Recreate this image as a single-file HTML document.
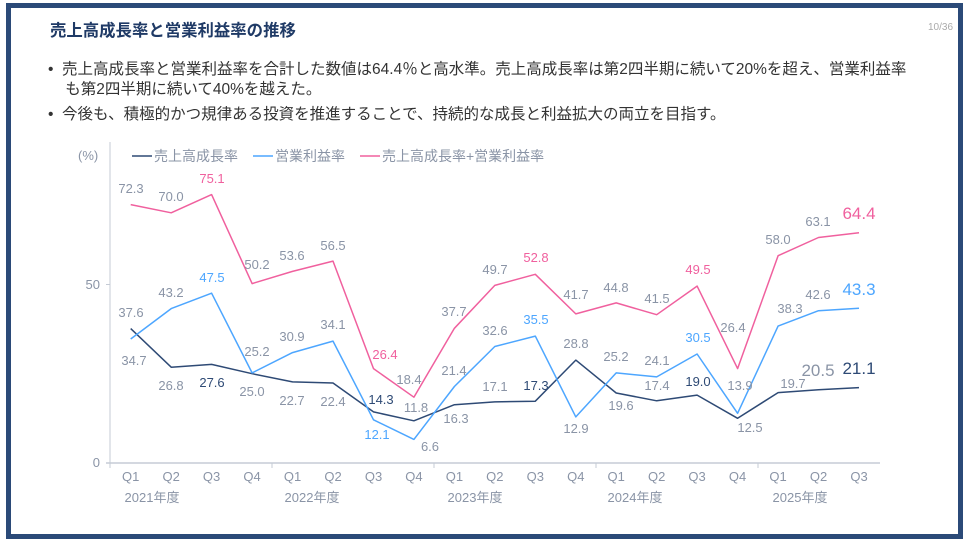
<!DOCTYPE html>
<html><head><meta charset="utf-8"><style>
body{margin:0;width:968px;height:542px;background:#fff;overflow:hidden;font-family:"Liberation Sans","Noto Sans CJK JP",sans-serif;}
.frame{position:absolute;left:6px;top:3px;width:947px;height:526px;border:5px solid #2b4a78;}
.t{position:absolute;white-space:nowrap;}
</style></head><body>
<div class="frame"></div>
<div class="t" style="left:50px;top:17px;font-size:16.4px;color:#1f3a66;font-weight:bold;">売上高成長率と営業利益率の推移</div>
<div class="t" style="left:928px;top:22px;font-size:10px;color:#aaa;">10/36</div>
<div class="t" style="left:48px;top:60px;font-size:15.5px;color:#333;line-height:20px;">•&nbsp; 売上高成長率と営業利益率を合計した数値は64.4％と高水準。売上高成長率は第2四半期に続いて20%を超え、営業利益率<br>&nbsp;&nbsp;&nbsp; も第2四半期に続いて40%を越えた。</div>
<div class="t" style="left:48px;top:102px;font-size:15.5px;color:#333;">•&nbsp; 今後も、積極的かつ規律ある投資を推進することで、持続的な成長と利益拡大の両立を目指す。</div>
<svg style="position:absolute;left:0;top:0" width="968" height="542" font-family="Liberation Sans, Noto Sans CJK JP, sans-serif">
<g fill="#8a94a6" font-size="13">
<text x="78" y="160">(%)</text>
<text x="100" y="289" text-anchor="end">50</text>
<text x="100" y="467" text-anchor="end">0</text>
</g>
<line x1="110" y1="142" x2="110" y2="468" stroke="#c5cbd5"/>
<line x1="106" y1="463" x2="880" y2="463" stroke="#c5cbd5" stroke-width="1.5"/>
<line x1="106" y1="284.5" x2="110" y2="284.5" stroke="#c5cbd5"/>
<g stroke="#c5cbd5"><line x1="272" y1="463" x2="272" y2="468"/><line x1="434" y1="463" x2="434" y2="468"/><line x1="596" y1="463" x2="596" y2="468"/><line x1="758" y1="463" x2="758" y2="468"/></g>
<g font-size="14" fill="#8a94a6">
<line x1="132" y1="156" x2="152" y2="156" stroke="#2e4a75" stroke-width="1.5"/><text x="154" y="161">売上高成長率</text>
<line x1="253" y1="156" x2="273" y2="156" stroke="#4da6ff" stroke-width="1.5"/><text x="275" y="161">営業利益率</text>
<line x1="360" y1="156" x2="380" y2="156" stroke="#f0609e" stroke-width="1.5"/><text x="382" y="161">売上高成長率+営業利益率</text>
</g>
<g fill="none" stroke-width="1.5" stroke-linejoin="round">
<polyline stroke="#2e4a75" points="130.7,328.6 171.2,367.2 211.6,364.4 252.1,373.7 292.5,381.9 333,383 373.5,411.9 413.9,420.8 454.4,404.7 494.8,401.9 535.3,401.2 575.8,360.1 616.2,393 656.7,400.8 697.1,395.1 737.6,418.3 778.1,392.6 818.5,389.7 859,387.6"/>
<polyline stroke="#4da6ff" points="130.7,339 171.2,308.6 211.6,293.2 252.1,372.9 292.5,352.6 333,341.1 373.5,419.8 413.9,439.4 454.4,386.5 494.8,346.5 535.3,336.1 575.8,416.9 616.2,372.9 656.7,376.9 697.1,354 737.6,413.3 778.1,326.1 818.5,310.7 859,308.2"/>
<polyline stroke="#f0609e" points="130.7,204.6 171.2,212.8 211.6,194.6 252.1,283.6 292.5,271.4 333,261.1 373.5,368.6 413.9,397.2 454.4,328.3 494.8,285.4 535.3,274.3 575.8,313.9 616.2,302.9 656.7,314.7 697.1,286.1 737.6,368.6 778.1,255.7 818.5,237.5 859,232.8"/>
</g>
<g font-size="13" fill="#8a94a6" text-anchor="middle">
<text x="131" y="193">72.3</text><text x="171" y="201">70.0</text><text x="212" y="183" fill="#f0609e">75.1</text><text x="257" y="269">50.2</text><text x="292" y="260">53.6</text><text x="333" y="250">56.5</text><text x="385" y="359" fill="#f0609e">26.4</text><text x="409" y="384">18.4</text><text x="454" y="316">37.7</text><text x="495" y="274">49.7</text><text x="536" y="262" fill="#f0609e">52.8</text><text x="576" y="299">41.7</text><text x="616" y="292">44.8</text><text x="657" y="303">41.5</text><text x="698" y="274" fill="#f0609e">49.5</text><text x="733" y="332">26.4</text><text x="778" y="244">58.0</text><text x="818" y="226">63.1</text>
<text x="859" y="219" font-size="17" fill="#f0609e">64.4</text>
<text x="134" y="365">34.7</text><text x="171" y="297">43.2</text><text x="212" y="282" fill="#4da6ff">47.5</text><text x="257" y="356">25.2</text><text x="292" y="341">30.9</text><text x="333" y="329">34.1</text><text x="377" y="439" fill="#4da6ff">12.1</text><text x="430" y="451">6.6</text><text x="454" y="375">21.4</text><text x="495" y="335">32.6</text><text x="536" y="324" fill="#4da6ff">35.5</text><text x="576" y="433">12.9</text><text x="616" y="361">25.2</text><text x="657" y="365">24.1</text><text x="698" y="342" fill="#4da6ff">30.5</text><text x="740" y="390">13.9</text><text x="790" y="313">38.3</text><text x="818" y="299">42.6</text>
<text x="859" y="295" font-size="17" fill="#4da6ff">43.3</text>
<text x="131" y="317">37.6</text><text x="171" y="390">26.8</text><text x="212" y="387" fill="#2e4a75">27.6</text><text x="252" y="396">25.0</text><text x="292" y="405">22.7</text><text x="333" y="406">22.4</text><text x="381" y="404" fill="#2e4a75">14.3</text><text x="416" y="412">11.8</text><text x="456" y="423">16.3</text><text x="495" y="391">17.1</text><text x="536" y="390" fill="#2e4a75">17.3</text><text x="576" y="348">28.8</text><text x="621" y="410">19.6</text><text x="657" y="390">17.4</text><text x="698" y="386" fill="#2e4a75">19.0</text><text x="750" y="432">12.5</text><text x="793" y="388">19.7</text>
<text x="818" y="376" font-size="17">20.5</text><text x="859" y="374" font-size="17" fill="#2e4a75">21.1</text>
</g>
<g font-size="13" fill="#8a94a6" text-anchor="middle">
<text x="130.7" y="481">Q1</text><text x="171.2" y="481">Q2</text><text x="211.6" y="481">Q3</text><text x="252.1" y="481">Q4</text><text x="292.5" y="481">Q1</text><text x="333" y="481">Q2</text><text x="373.5" y="481">Q3</text><text x="413.9" y="481">Q4</text><text x="454.4" y="481">Q1</text><text x="494.8" y="481">Q2</text><text x="535.3" y="481">Q3</text><text x="575.8" y="481">Q4</text><text x="616.2" y="481">Q1</text><text x="656.7" y="481">Q2</text><text x="697.1" y="481">Q3</text><text x="737.6" y="481">Q4</text><text x="778.1" y="481">Q1</text><text x="818.5" y="481">Q2</text><text x="859" y="481">Q3</text>
<text x="152" y="502">2021年度</text><text x="312" y="502">2022年度</text><text x="475" y="502">2023年度</text><text x="635" y="502">2024年度</text><text x="800" y="502">2025年度</text>
</g>
</svg>
</body></html>
